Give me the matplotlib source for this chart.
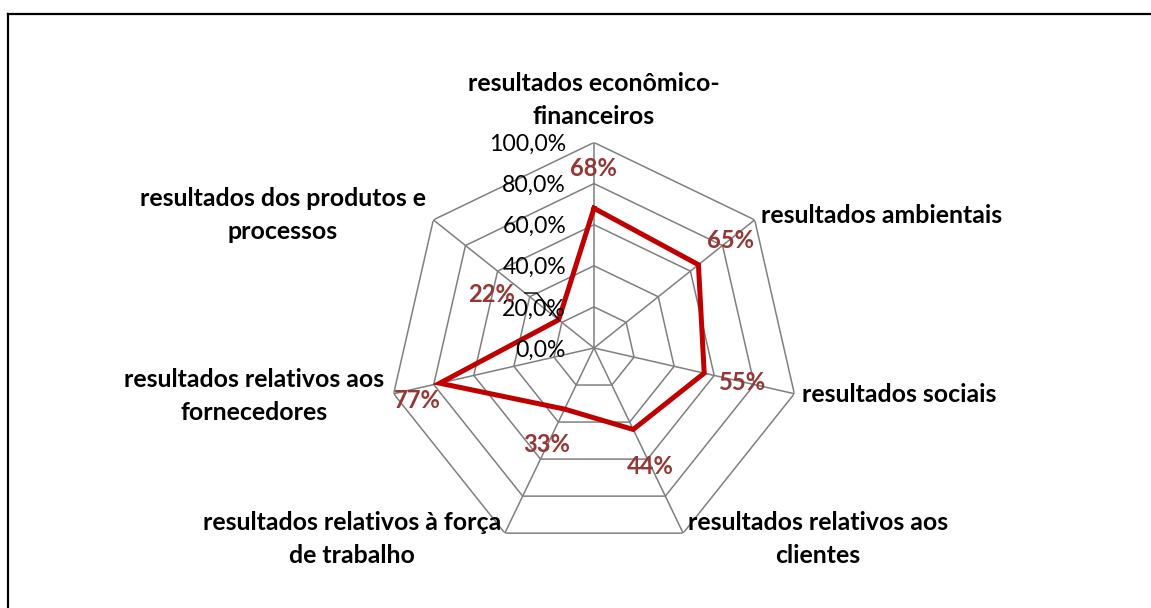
import numpy as np
import matplotlib
matplotlib.use("Agg")
import matplotlib.pyplot as plt
from matplotlib.lines import Line2D

categories = [
    "resultados econômico-\nfinanceiros",
    "resultados ambientais",
    "resultados sociais",
    "resultados relativos aos\nclientes",
    "resultados relativos à força\nde trabalho",
    "resultados relativos aos\nfornecedores",
    "resultados dos produtos e\nprocessos",
]
values = [0.68, 0.65, 0.55, 0.44, 0.33, 0.77, 0.22]
value_labels = ["68%", "65%", "55%", "44%", "33%", "77%", "22%"]
ring_values = [0.0, 0.2, 0.4, 0.6, 0.8, 1.0]
ring_labels = ["0,0%", "20,0%", "40,0%", "60,0%", "80,0%", "100,0%"]

W, H = 1151, 608
FONT = "Lato"
fig = plt.figure(figsize=(W / 100, H / 100), dpi=100)
fig.patch.set_facecolor("white")

def fx(x):
    return x / W

def fy(y):
    return 1 - y / H

# border (top and left only)
fig.add_artist(Line2D([fx(8), 1.0], [fy(14), fy(14)], color="black", lw=1.6, transform=fig.transFigure))
fig.add_artist(Line2D([fx(8), fx(8)], [fy(14), 0.0], color="black", lw=1.6, transform=fig.transFigure))

cx, cy, R = 594, 348, 205.5
ax = fig.add_axes([fx(cx - R), fy(cy + R), 2 * R / W, 2 * R / H], polar=True)
ax.set_theta_zero_location("N")
ax.set_theta_direction(-1)
ax.set_ylim(0, 1)
ax.set_xticks([])
ax.set_yticks([])
ax.grid(False)
ax.spines["polar"].set_visible(False)
ax.patch.set_alpha(0)

n = len(categories)
theta = np.arange(n) * 2 * np.pi / n
theta_c = np.append(theta, theta[0])

grid_col = "#7f7f7f"
for rv in ring_values[1:]:
    ax.plot(theta_c, [rv] * (n + 1), color=grid_col, lw=1.1, zorder=1)
for t in theta:
    ax.plot([t, t], [0, 1], color=grid_col, lw=1.1, zorder=1)

vals_c = np.append(values, values[0])
ax.plot(theta_c, vals_c, color="#C00000", lw=3.6, zorder=3, solid_joinstyle="miter")

# font size fitting
renderer = fig.canvas.get_renderer()

def fit_size(text, target_px, weight):
    t = fig.text(0, 0, text, fontsize=10, family=FONT, fontweight=weight)
    w = t.get_window_extent(renderer).width
    t.remove()
    return 10 * target_px / w

cat_fs = fit_size("resultados ambientais", 242, "bold")
tick_fs = fit_size("100,0%", 77, "normal")
val_fs = fit_size("68%", 47, "bold")

# category labels: (x, y, ha) in pixels for center of text block
cat_pos = [
    (594, 100, "center"),
    (761, 215, "left"),
    (802, 395, "left"),
    (818, 539, "center"),
    (352, 539, "center"),
    (254, 396, "center"),
    (283, 215, "center"),
]
for lab, (x, y, ha) in zip(categories, cat_pos):
    fig.text(fx(x), fy(y), lab, ha=ha, va="center", fontsize=cat_fs, fontweight="bold",
             family=FONT, color="black", linespacing=1.48, multialignment="center")

# ring tick labels
for rv, rl in zip(ring_values, ring_labels):
    y = cy - rv * R + 2
    fig.text(fx(566), fy(y), rl, ha="right", va="center", fontsize=tick_fs, family=FONT, color="black")

# data labels
val_pos = [(593, 168), (731, 241), (743, 383), (650, 467), (547, 445), (417, 400), (492, 295)]
for vl, (x, y) in zip(value_labels, val_pos):
    fig.text(fx(x), fy(y), vl, ha="center", va="center", fontsize=val_fs, fontweight="bold",
             family=FONT, color="#953735", zorder=5)

# leader line for 22% label
t6 = theta[6]
px = cx + values[6] * R * np.sin(t6)
py = cy - values[6] * R * np.cos(t6)
fig.add_artist(Line2D([fx(525), fx(537), fx(px)], [fy(293), fy(293), fy(py)],
                      color="black", lw=1.0, transform=fig.transFigure))

fig.savefig("out.png", dpi=100, facecolor="white")
